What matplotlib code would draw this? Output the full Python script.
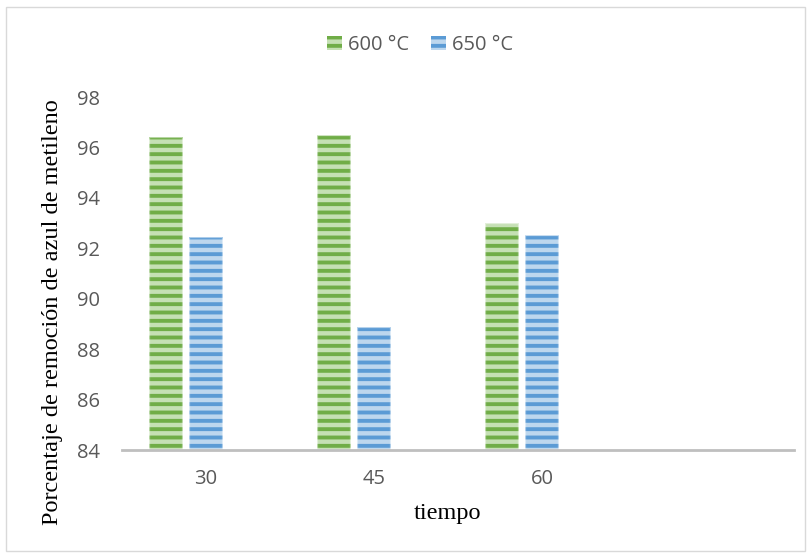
import matplotlib
matplotlib.use("Agg")
import matplotlib.pyplot as plt
from matplotlib.patches import Rectangle, Patch
import numpy as np

# removal of methylene blue (%) vs contact time, two calcination temperatures
tiempos = ["30", "45", "60"]
serie_600 = [96.42, 96.50, 93.00]
serie_650 = [92.45, 88.88, 92.53]
etiquetas = ["600 °C", "650 °C"]

verde_claro, verde = "#C5E0B4", "#70AD47"
azul_claro, azul = "#BDD7EE", "#5B9BD5"

plt.rcParams["hatch.linewidth"] = 2.8

fig = plt.figure(figsize=(8.11, 5.58), dpi=100)
ax = fig.add_axes([122 / 811, 1 - 450 / 558, 672 / 811, 353 / 558])

x = np.arange(len(tiempos))
ancho = 34 / 168
desp = 40 / 168


def barras(pos, valores, claro, oscuro):
    base = 84
    alturas = [v - base for v in valores]
    ax.bar(pos, alturas, ancho, bottom=base, color=claro, edgecolor="none", zorder=2)
    ax.bar(pos, alturas, ancho, bottom=base, fill=False, edgecolor=oscuro,
           hatch="--", linewidth=0, zorder=3)
    # soft pale rim along the bar sides
    ax.bar(pos, alturas, ancho, bottom=base, fill=False, edgecolor="white",
           linewidth=1.6, alpha=0.5, zorder=4)


barras(x - desp, serie_600, verde_claro, verde)
barras(x, serie_650, azul_claro, azul)

ax.set_xlim(-0.5, 3.5)
ax.set_ylim(84, 98)
ax.set_yticks(np.arange(84, 99, 2))
ax.set_xticks(x)
ax.set_xticklabels(tiempos)

for s in ["top", "right", "left"]:
    ax.spines[s].set_visible(False)
ax.spines["bottom"].set_color("#BFBFBF")
ax.spines["bottom"].set_linewidth(2)
ax.spines["bottom"].set_zorder(5)
ax.tick_params(axis="both", length=0, labelsize=14.5, labelcolor="#595959")
ax.tick_params(axis="y", pad=16)
ax.tick_params(axis="x", pad=14)
for t in ax.get_xticklabels() + ax.get_yticklabels():
    t.set_family("Open Sans")

fig.text(53 / 811, 1 - 312 / 558, "Porcentaje de remoción de azul de metileno",
         rotation=90, ha="center", va="center", family="Liberation Serif",
         fontsize=17.5, color="black")
fig.text(447 / 811, 1 - 513 / 558, "tiempo", ha="center", va="center",
         family="Liberation Serif", fontsize=17.5, color="black")

manejadores = [
    Patch(facecolor=verde_claro, edgecolor=verde, hatch="--", linewidth=0),
    Patch(facecolor=azul_claro, edgecolor=azul, hatch="--", linewidth=0),
]
leg = fig.legend(manejadores, etiquetas, loc="center", ncol=2,
                 bbox_to_anchor=(420 / 811, 1 - 45 / 558), frameon=False,
                 handlelength=0.75, handleheight=0.75, handletextpad=0.3,
                 columnspacing=1.1, prop={"family": "Open Sans", "size": 14.5})
for t in leg.get_texts():
    t.set_color("#595959")

fig.add_artist(Rectangle((6 / 811, 7 / 558), 799 / 811, 544 / 558,
                         transform=fig.transFigure, fill=False,
                         edgecolor="#D9D9D9", linewidth=1))

fig.savefig("out.png", dpi=100)
